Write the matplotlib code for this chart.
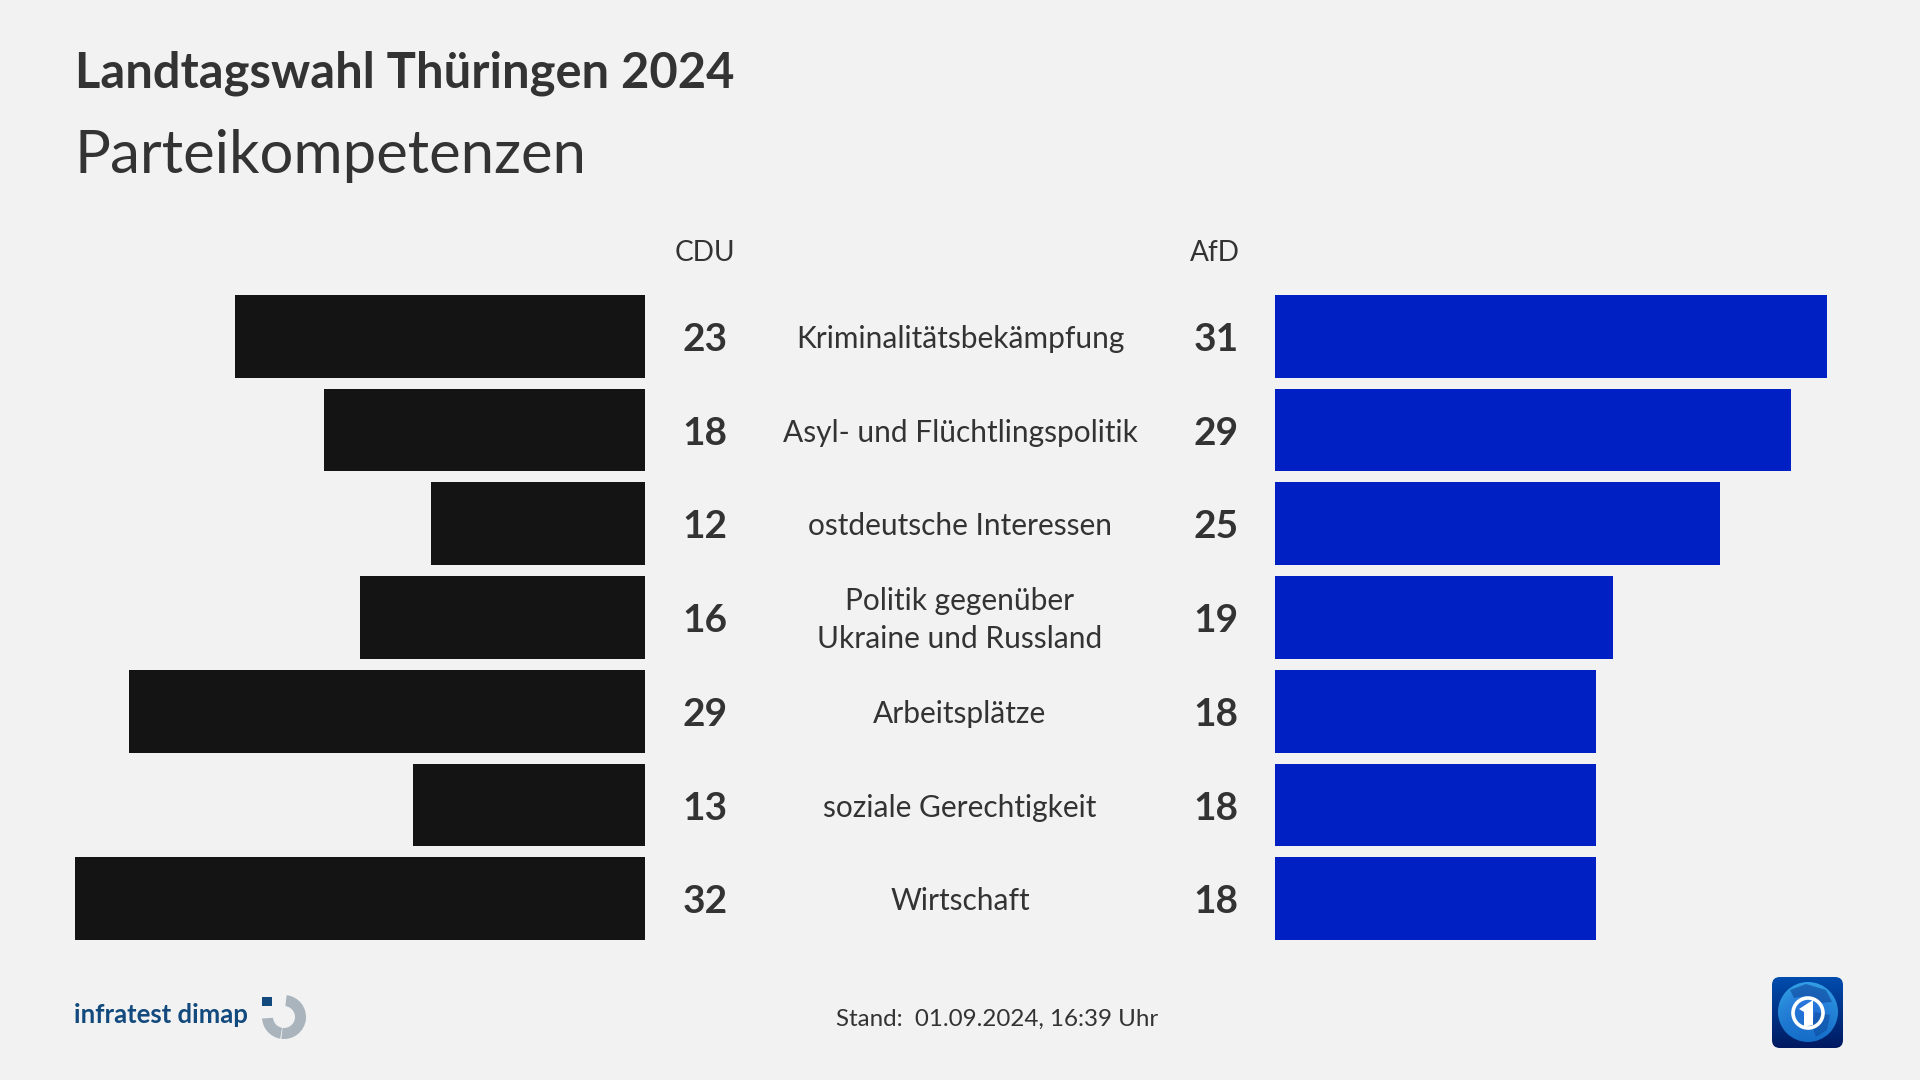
import numpy as np
import matplotlib
matplotlib.use("Agg")
import matplotlib.pyplot as plt
from matplotlib.patches import Circle, FancyBboxPatch, Polygon, Rectangle, Wedge

plt.rcParams["font.family"] = ["Lato", "DejaVu Sans"]

topics = ["Kriminalitätsbekämpfung", "Asyl- und Flüchtlingspolitik", "ostdeutsche Interessen",
          "Politik gegenüber\nUkraine und Russland", "Arbeitsplätze", "soziale Gerechtigkeit", "Wirtschaft"]
cdu = [23, 18, 12, 16, 29, 13, 32]
afd = [31, 29, 25, 19, 18, 18, 18]

BG = "#f2f2f2"
TXT = "#333333"
W, H = 1920, 1080
UNIT = 17.81  # px per percent point

fig = plt.figure(figsize=(19.2, 10.8), dpi=100, facecolor=BG)


def px_axes(x0, y0, x1, y1):
    return fig.add_axes([x0 / W, 1 - y1 / H, (x1 - x0) / W, (y1 - y0) / H])


# bars, both sides
left = px_axes(645 - 32 * UNIT, 295, 645, 940)
right = px_axes(1275, 295, 1275 + 31 * UNIT, 940)
ypos = np.arange(len(topics))
left.barh(ypos, cdu, height=0.885, color="#141414")
right.barh(ypos, afd, height=0.885, color="#0020c4")
left.set_xlim(32, 0)
right.set_xlim(0, 31)
for ax in (left, right):
    ax.set_ylim(6.44, -0.44)
    ax.axis("off")

# labels next to the bars, same y scale as the bars
for i, topic in enumerate(topics):
    left.annotate(str(cdu[i]), (0, i), xytext=(60, 0), textcoords="offset pixels", ha="center", va="center_baseline",
                  fontsize=28, fontweight="bold", color=TXT, annotation_clip=False)
    left.annotate(topic, (0, i), xytext=(315, -2.5), textcoords="offset pixels", ha="center", va="center",
                  fontsize=21.5, color=TXT, annotation_clip=False, linespacing=1.43)
    right.annotate(str(afd[i]), (0, i), xytext=(-59, 0), textcoords="offset pixels", ha="center", va="center_baseline",
                   fontsize=28, fontweight="bold", color=TXT, annotation_clip=False)

# overlay in pixel coordinates for headings and logos
ov = fig.add_axes([0, 0, 1, 1], zorder=5)
ov.patch.set_alpha(0)
ov.axis("off")

ov.text(75, 87, "Landtagswahl Thüringen 2024", fontsize=35.2, fontweight="bold", color=TXT, va="baseline")
ov.text(75, 173, "Parteikompetenzen", fontsize=43.1, color=TXT, va="baseline")
ov.text(705, 261, "CDU", fontsize=20.2, color=TXT, ha="center", va="baseline")
ov.text(1215, 261, "AfD", fontsize=20.2, color=TXT, ha="center", va="baseline")
ov.text(997, 1026, "Stand:  01.09.2024, 16:39 Uhr", fontsize=17.4, color=TXT, ha="center", va="baseline")

# infratest dimap logo
ov.text(74, 1023, "infratest dimap", fontsize=18.5, fontweight="bold", color="#124a7e", va="baseline")
ov.add_patch(Rectangle((262, 997), 10, 9, color="#124a7e", lw=0))
ring = "#a9b4bc"
ov.add_patch(Wedge((284, 1017), 22, -83, 97, width=11, color=ring, lw=0))
ov.add_patch(Wedge((284, 1017), 22, 100, 176, width=11, color=ring, lw=0))

# tagesschau logo: rounded box with blue gradient and globe
yy, xx = np.mgrid[0:1:100j, 0:1:100j]
box = FancyBboxPatch((1772, 977), 71, 71, boxstyle="round,pad=0,rounding_size=8", lw=0, fc="none")
ov.add_patch(box)
grad = np.zeros((100, 100, 3))
grad[..., 1] = 0.30 - 0.2 * yy
grad[..., 2] = 0.68 - 0.30 * yy
im = ov.imshow(grad, extent=(1772, 1843, 1048, 977), aspect="auto", zorder=2)
im.set_clip_path(box)
rr = np.hypot(xx - 0.5, yy - 0.5) / 0.5
glob = np.zeros((100, 100, 4))
glob[..., 0] = 0.08 + 0.12 * (1 - yy)
glob[..., 1] = 0.42 + 0.22 * rr * (1 - yy)
glob[..., 2] = 0.78 + 0.12 * (1 - yy)
glob[..., 3] = 1.0
im2 = ov.imshow(glob, extent=(1777, 1839, 1043, 981), aspect="auto", zorder=3)
im2.set_clip_path(Circle((1808, 1012), 30, transform=ov.transData))
# rough land shapes on the globe
ov.add_patch(Polygon([(1790, 990), (1806, 984), (1826, 990), (1832, 1002), (1820, 1003), (1806, 996), (1794, 998)],
                     fc="#0a3f94", alpha=0.55, lw=0, zorder=3.5))
ov.add_patch(Polygon([(1815, 1012), (1830, 1015), (1827, 1030), (1816, 1037), (1812, 1026)],
                     fc="#0a3f94", alpha=0.45, lw=0, zorder=3.5))
ov.add_patch(Circle((1808, 1013), 15, fc="none", ec="white", lw=2.6, zorder=4))
ov.add_patch(Polygon([(1799, 1009), (1813, 1000), (1813, 1025), (1804, 1027), (1804, 1012)],
                     fc="white", lw=0, zorder=4))
ov.set_xlim(0, W)
ov.set_ylim(H, 0)

fig.savefig("out.png", dpi=100, facecolor=BG)
